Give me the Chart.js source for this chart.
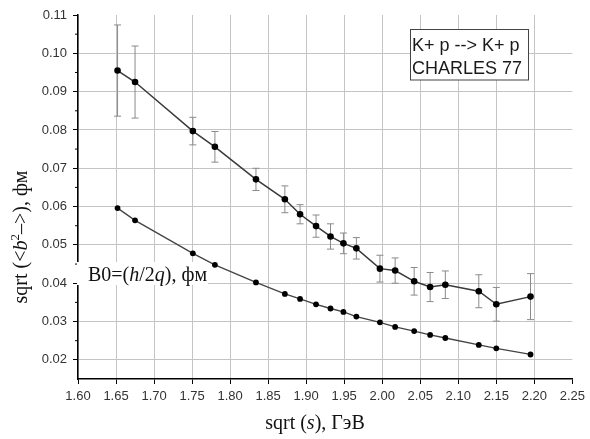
<!DOCTYPE html>
<html>
<head>
<meta charset="utf-8">
<script src="https://cdn.jsdelivr.net/npm/chart.js@4.4.1/dist/chart.umd.min.js"></script>
<style>
  html, body { margin: 0; padding: 0; background: #ffffff; }
  #wrap { width: 590px; height: 439px; position: relative; }
</style>
</head>
<body>
<div id="wrap"><canvas id="c" width="590" height="439"></canvas></div>
<script>
// ---- data ----
const xValues = [1.652, 1.675, 1.751, 1.780, 1.834, 1.872, 1.892, 1.913, 1.932, 1.949, 1.966, 1.997, 2.017, 2.042, 2.063, 2.083, 2.127, 2.150, 2.195];
const upperValues = [0.0955, 0.0925, 0.0797, 0.0756, 0.0671, 0.0619, 0.0580, 0.0549, 0.0522, 0.0504, 0.0491, 0.0438, 0.0433, 0.0405, 0.0390, 0.0396, 0.0379, 0.0345, 0.0365];
const upperErrors = [0.0119, 0.0094, 0.0036, 0.0040, 0.0029, 0.0035, 0.0025, 0.0029, 0.0033, 0.0027, 0.0028, 0.0035, 0.0033, 0.0036, 0.0038, 0.0036, 0.0043, 0.0044, 0.0060];
const lowerValues = [0.0596, 0.0564, 0.0478, 0.0448, 0.0402, 0.0372, 0.0359, 0.0345, 0.0334, 0.0325, 0.0313, 0.0298, 0.0286, 0.0275, 0.0265, 0.0257, 0.0239, 0.0230, 0.0214];

const xTicks = [1.60, 1.65, 1.70, 1.75, 1.80, 1.85, 1.90, 1.95, 2.00, 2.05, 2.10, 2.15, 2.20, 2.25];
const yTicks = [0.02, 0.03, 0.04, 0.05, 0.06, 0.07, 0.08, 0.09, 0.10, 0.11];

const infoLines = ["K+ p --> K+ p", "CHARLES 77"];
const lowerLabelRuns = [["B0=(", false], ["h", true], ["/2", false], ["q", true], ["), фм", false]];
const xTitleRuns = [["sqrt (", false], ["s", true], ["), ГэВ", false]];

const SERIF = '"Liberation Serif", "Times New Roman", serif';
const SANS = '"Liberation Sans", Arial, sans-serif';

function drawRuns(ctx, runs, x, y, size) {
  let cx = x;
  for (const [t, it, sz, dy] of runs) {
    ctx.font = (it ? 'italic ' : '') + (sz || size) + 'px ' + SERIF;
    ctx.fillText(t, cx, y + (dy || 0));
    cx += ctx.measureText(t).width;
  }
  return cx - x;
}
function runsWidth(ctx, runs, size) {
  let w = 0;
  for (const [t, it, sz] of runs) {
    ctx.font = (it ? 'italic ' : '') + (sz || size) + 'px ' + SERIF;
    w += ctx.measureText(t).width;
  }
  return w;
}

const errorBars = {
  id: 'errorBars',
  beforeDatasetsDraw(chart) {
    const ctx = chart.ctx, xs = chart.scales.x, ys = chart.scales.y;
    ctx.save();
    ctx.strokeStyle = '#8a8a8a';
    ctx.lineWidth = 1;
    for (let i = 0; i < xValues.length; i++) {
      const px = xs.getPixelForValue(xValues[i]);
      const top = ys.getPixelForValue(upperValues[i] + upperErrors[i]);
      const bot = ys.getPixelForValue(upperValues[i] - upperErrors[i]);
      ctx.beginPath();
      ctx.moveTo(px, top); ctx.lineTo(px, bot);
      ctx.moveTo(px - 3.5, top); ctx.lineTo(px + 3.5, top);
      ctx.moveTo(px - 3.5, bot); ctx.lineTo(px + 3.5, bot);
      ctx.stroke();
    }
    ctx.restore();
  }
};

const decorations = {
  id: 'decorations',
  afterDraw(chart) {
    const ctx = chart.ctx, ys = chart.scales.y, area = chart.chartArea;
    ctx.save();
    // minor y ticks
    ctx.strokeStyle = '#000';
    ctx.lineWidth = 1;
    ctx.beginPath();
    for (let i = 0; i < yTicks.length - 1; i++) {
      const py = ys.getPixelForValue((yTicks[i] + yTicks[i + 1]) / 2);
      ctx.moveTo(area.left - 3, py); ctx.lineTo(area.left, py);
    }
    ctx.stroke();

    // lower series label box
    ctx.fillStyle = '#ffffff';
    ctx.fillRect(77, 262, 131, 23);
    ctx.fillStyle = '#111';
    ctx.textBaseline = 'alphabetic';
    ctx.textAlign = 'left';
    drawRuns(ctx, lowerLabelRuns, 88, 281, 20);

    // x title
    const w = runsWidth(ctx, xTitleRuns, 20);
    drawRuns(ctx, xTitleRuns, 315 - w / 2, 429, 20);

    // y title (rotated)
    const yRuns = [["sqrt (<", false], ["b", true], ["2", false, 13, -8], ["–>), фм", false]];
    const yw = runsWidth(ctx, yRuns, 20);
    ctx.save();
    ctx.translate(27, 237);
    ctx.rotate(-Math.PI / 2);
    drawRuns(ctx, yRuns, -yw / 2, 0, 20);
    ctx.restore();

    // info box
    ctx.fillStyle = '#ffffff';
    ctx.fillRect(410, 29.5, 118, 50.5);
    ctx.strokeStyle = '#444';
    ctx.lineWidth = 1;
    ctx.strokeRect(410.5, 29.5, 118, 50.5);
    ctx.fillStyle = '#1a1a1a';
    ctx.font = '18px ' + SANS;
    ctx.fillText(infoLines[0], 412, 51);
    ctx.fillText(infoLines[1], 412, 73.5);
    ctx.restore();
  }
};

new Chart(document.getElementById('c'), {
  type: 'scatter',
  data: {
    datasets: [
      {
        data: xValues.map((x, i) => ({ x: x, y: upperValues[i] })),
        showLine: true,
        borderColor: '#3a3a3a',
        borderWidth: 1.5,
        pointRadius: 3.3,
        pointBackgroundColor: '#000',
        pointBorderColor: '#000',
        pointBorderWidth: 0
      },
      {
        data: xValues.map((x, i) => ({ x: x, y: lowerValues[i] })),
        showLine: true,
        borderColor: '#444',
        borderWidth: 1.3,
        pointRadius: 2.9,
        pointBackgroundColor: '#000',
        pointBorderColor: '#000',
        pointBorderWidth: 0
      }
    ]
  },
  options: {
    responsive: false,
    animation: false,
    layout: { padding: { top: 15, right: 16, left: 0, bottom: 0 } },
    plugins: { legend: { display: false }, tooltip: { enabled: false } },
    scales: {
      x: {
        type: 'linear',
        min: 1.60, max: 2.25,
        afterBuildTicks: s => { s.ticks = xTicks.map(v => ({ value: v })); },
        afterFit: s => { s.height = 60; },
        ticks: {
          callback: v => v.toFixed(2),
          color: '#333',
          font: { family: SANS, size: 13 },
          padding: 5,
          maxRotation: 0,
          autoSkip: false
        },
        grid: {
          color: c => (c.tick && Math.abs(c.tick.value - 2.25) < 1e-9) ? 'rgba(0,0,0,0)' : '#c4c4c4',
          lineWidth: 1,
          tickLength: 5,
          tickColor: '#000',
          tickWidth: 1
        },
        border: { color: '#000', width: 1.5 }
      },
      y: {
        min: 0.015, max: 0.11,
        afterBuildTicks: s => { s.ticks = yTicks.map(v => ({ value: v })); },
        afterFit: s => { s.width = 78; },
        ticks: {
          callback: v => v.toFixed(2),
          color: '#333',
          font: { family: SANS, size: 13 },
          padding: 6,
          autoSkip: false
        },
        grid: {
          color: c => (c.tick && Math.abs(c.tick.value - 0.11) < 1e-9) ? 'rgba(0,0,0,0)' : '#c4c4c4',
          lineWidth: 1,
          tickLength: 5,
          tickColor: '#000',
          tickWidth: 1
        },
        border: { color: '#000', width: 1.5 }
      }
    }
  },
  plugins: [errorBars, decorations]
});
</script>
</body>
</html>
